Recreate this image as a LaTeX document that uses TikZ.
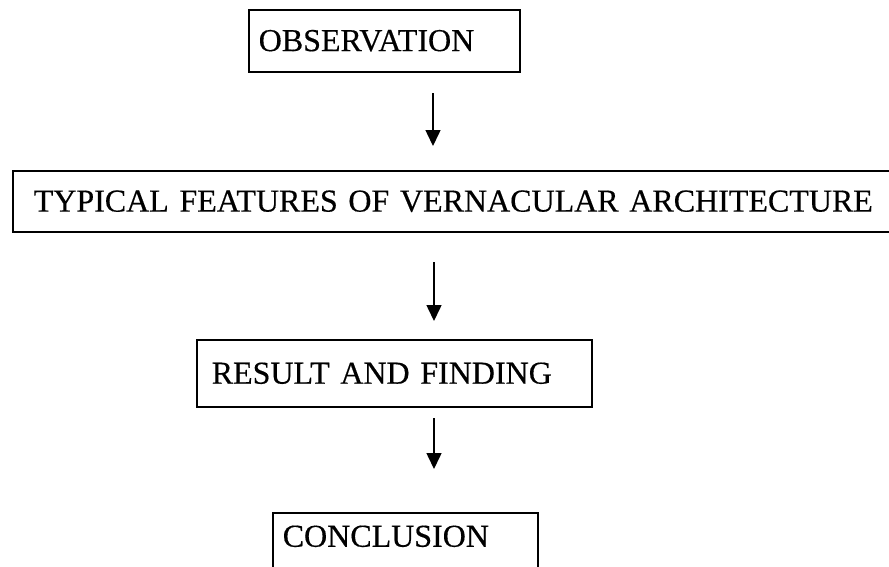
\documentclass[tikz,border=0pt]{standalone}
\usepackage{fontspec}
\setmainfont[WordSpace=0.6, FakeBold=0.4]{Liberation Serif}
\usetikzlibrary{arrows.meta}
\begin{document}
\begin{tikzpicture}
  [
  x=1pt, y=-1pt, line width=1.5pt, draw=black,
  font=\fontsize{32}{38}\selectfont,
  stagebox/.style={draw=black, align=left, anchor=north west, inner ysep=0pt},
  flowarrow/.style={-{Triangle[length=16pt,width=15pt]}, line width=1.5pt}
  ]

\useasboundingbox (0,0) rectangle (889,566);
\clip (0,0) rectangle (889,566);

\node[stagebox, inner xsep=10pt, text width=251pt, minimum height=62pt] (obs) at (248,9) {OBSERVATION};
\node[stagebox, inner xsep=21pt, text width=846pt, minimum height=61pt] (feat) at (12,170) {TYPICAL FEATURES OF VERNACULAR ARCHITECTURE};
\node[stagebox, inner xsep=15pt, text width=365pt, minimum height=67pt] (res) at (196,339) {RESULT AND FINDING};
\node[stagebox, inner xsep=10pt, text width=245pt, inner ysep=13pt, text height=21pt, text depth=40pt] (concl) at (272,512) {CONCLUSION};

\foreach \n/\xa/\ya/\yb in {1/433/93/146, 2/434/262/321, 3/434/418/469} {
  \coordinate (s\n) at (\xa,\ya);
  \coordinate (e\n) at (\xa,\yb);
  \draw[flowarrow] (s\n) -- (e\n);
}

\end{tikzpicture}
\end{document}
